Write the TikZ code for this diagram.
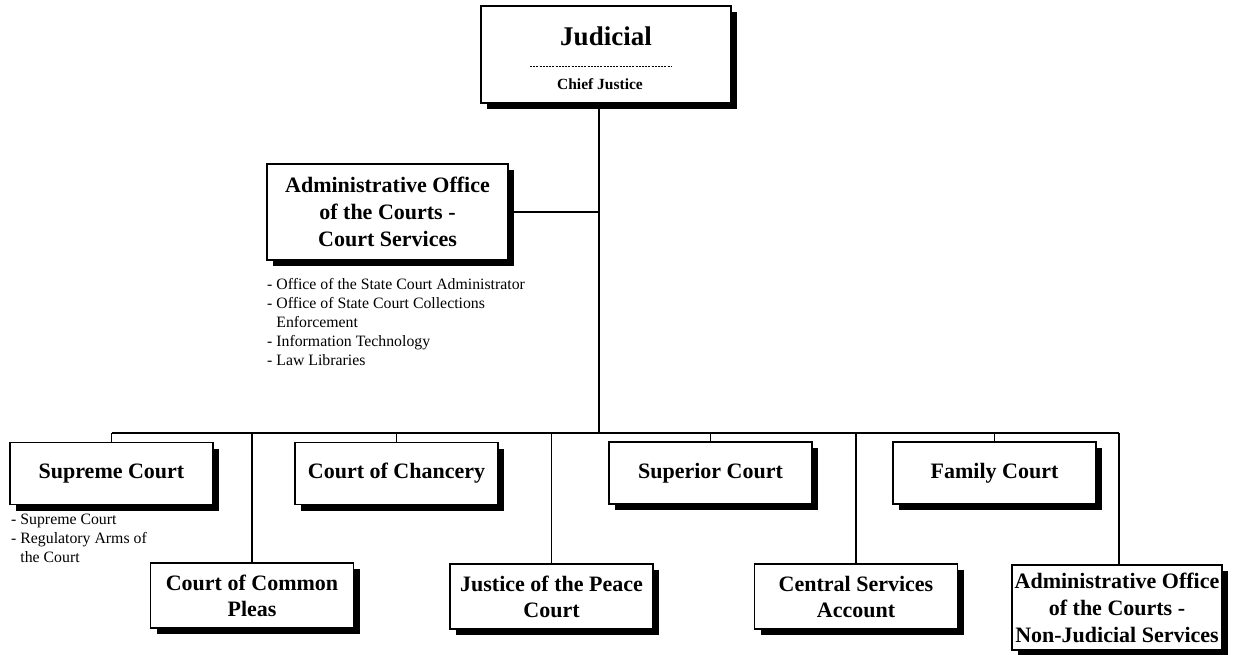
\documentclass[tikz,border=0pt]{standalone}
\usepackage{fontspec}
\setmainfont{Liberation Serif}
\usetikzlibrary{shadows}
\begin{document}
\begin{tikzpicture}[x=1pt,y=-1pt,
  box/.style={draw, line width=1.4pt, fill=white,
    drop shadow={shadow xshift=6pt, shadow yshift=-6pt, fill=black, opacity=1},
    font=\bfseries\fontsize{22}{26}\selectfont, align=center, inner sep=0pt},
  toprow/.style={box, minimum width=203pt, minimum height=62pt},
  botrow/.style={box, minimum width=203pt, minimum height=65pt},
  conn/.style={line width=1.3pt},
  trunk/.style={line width=2.2pt},
  bullets/.style={font=\fontsize{15.8}{19}\selectfont, align=left, inner sep=0pt, anchor=north west}
]
\useasboundingbox (0,0) rectangle (1255,654);

% top node
\node[box, minimum width=250pt, minimum height=97pt] (J) at (606,54.5) {};
\node[font=\bfseries\fontsize{27}{30}\selectfont, inner sep=0pt] (Jt) at (606,36) {Judicial};
\draw[line width=1pt, dash pattern=on 2pt off 1.2pt] (530,66) coordinate (dl) -- (672,66) coordinate (dr);
\node[font=\bfseries\fontsize{15.5}{17}\selectfont, inner sep=0pt] (Jc) at (600,84) {Chief Justice};

% admin office
\node[box, minimum width=241pt, minimum height=96pt, font=\bfseries\fontsize{22}{27}\selectfont] (A) at (387.5,212) {Administrative Office\\of the Courts -\\Court Services};
\node[bullets] (Ab) at (267,278) {- Office of the State Court Administrator\\- Office of State Court Collections\\\phantom{- }Enforcement\\- Information Technology\\- Law Libraries};

% trunk and bus
\coordinate (bus) at (599,433);
\draw[trunk] (J.south -| bus) -- (bus);
\draw[conn] (A.east) -- (A.east -| bus);

% row nodes
\node[toprow] (SC) at (111.5,473.5) {Supreme Court};
\node[botrow] (CP) at (252,595.5) {Court of Common\\Pleas};
\node[toprow] (CH) at (396.5,473.5) {Court of Chancery};
\node[botrow] (JP) at (551.5,596.5) {Justice of the Peace\\Court};
\node[toprow] (SU) at (710.5,473) {Superior Court};
\node[botrow] (CS) at (856,596.5) {Central Services\\Account};
\node[toprow] (FC) at (994.5,473) {Family Court};
\node[box, minimum width=210pt, minimum height=85pt, font=\bfseries\fontsize{22}{27}\selectfont] (NJ) at (1117,607.5) {Administrative Office\\of the Courts -\\Non-Judicial Services};

\node[bullets] (Sb) at (11,514) {- Supreme Court\\- Regulatory Arms of\\\phantom{- }the Court};

% bus and drops
\coordinate (busR) at (1119,433);
\draw[conn] (SC.north |- bus) -- (busR);
\foreach \n in {SC,CP,CH,JP,SU,CS,FC} {
  \draw[conn] (\n.north |- bus) -- (\n.north);
}
\draw[conn] (busR) -- (busR |- NJ.north);
\end{tikzpicture}
\end{document}
